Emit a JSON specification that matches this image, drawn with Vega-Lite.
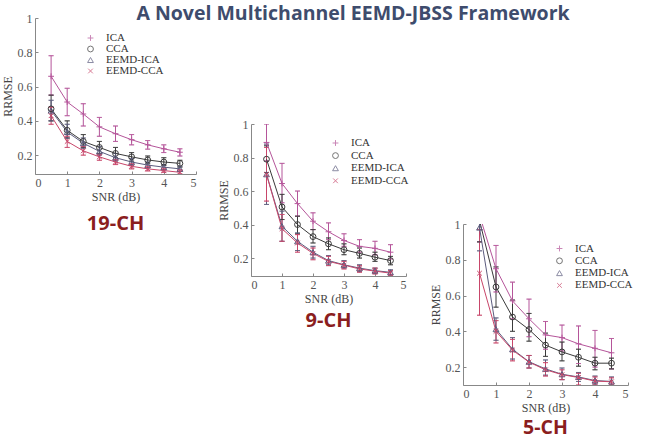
{
"$schema":"https://vega.github.io/schema/vega-lite/v6.json",
"background":"white",
"padding":{"left":1,"top":3,"right":5,"bottom":5},
"title":{"text":"A Novel Multichannel EEMD-JBSS Framework","font":"Open Sans","fontSize":19.5,"fontWeight":"bold","color":"#3E4C6D","anchor":"middle","offset":-12,"dx":36},
"datasets":{"d":[
{"p":"19","m":"ICA","x":0.5,"v":0.66,"lo":0.55,"hi":0.78},
{"p":"19","m":"ICA","x":1,"v":0.51,"lo":0.43,"hi":0.59},
{"p":"19","m":"ICA","x":1.5,"v":0.44,"lo":0.37,"hi":0.5},
{"p":"19","m":"ICA","x":2,"v":0.365,"lo":0.31,"hi":0.42},
{"p":"19","m":"ICA","x":2.5,"v":0.325,"lo":0.28,"hi":0.37},
{"p":"19","m":"ICA","x":3,"v":0.29,"lo":0.26,"hi":0.32},
{"p":"19","m":"ICA","x":3.5,"v":0.26,"lo":0.235,"hi":0.285},
{"p":"19","m":"ICA","x":4,"v":0.237,"lo":0.215,"hi":0.26},
{"p":"19","m":"ICA","x":4.5,"v":0.217,"lo":0.195,"hi":0.237},
{"p":"19","m":"CCA","x":0.5,"v":0.47,"lo":0.4,"hi":0.55},
{"p":"19","m":"CCA","x":1,"v":0.345,"lo":0.3,"hi":0.4},
{"p":"19","m":"CCA","x":1.5,"v":0.28,"lo":0.245,"hi":0.32},
{"p":"19","m":"CCA","x":2,"v":0.245,"lo":0.21,"hi":0.28},
{"p":"19","m":"CCA","x":2.5,"v":0.21,"lo":0.185,"hi":0.245},
{"p":"19","m":"CCA","x":3,"v":0.19,"lo":0.165,"hi":0.215},
{"p":"19","m":"CCA","x":3.5,"v":0.172,"lo":0.15,"hi":0.195},
{"p":"19","m":"CCA","x":4,"v":0.16,"lo":0.14,"hi":0.185},
{"p":"19","m":"CCA","x":4.5,"v":0.152,"lo":0.13,"hi":0.17},
{"p":"19","m":"EEMD-ICA","x":0.5,"v":0.46,"lo":0.4,"hi":0.52},
{"p":"19","m":"EEMD-ICA","x":1,"v":0.335,"lo":0.3,"hi":0.38},
{"p":"19","m":"EEMD-ICA","x":1.5,"v":0.27,"lo":0.24,"hi":0.3},
{"p":"19","m":"EEMD-ICA","x":2,"v":0.222,"lo":0.2,"hi":0.25},
{"p":"19","m":"EEMD-ICA","x":2.5,"v":0.185,"lo":0.165,"hi":0.21},
{"p":"19","m":"EEMD-ICA","x":3,"v":0.16,"lo":0.14,"hi":0.18},
{"p":"19","m":"EEMD-ICA","x":3.5,"v":0.142,"lo":0.125,"hi":0.16},
{"p":"19","m":"EEMD-ICA","x":4,"v":0.13,"lo":0.115,"hi":0.145},
{"p":"19","m":"EEMD-ICA","x":4.5,"v":0.12,"lo":0.105,"hi":0.135},
{"p":"19","m":"EEMD-CCA","x":0.5,"v":0.43,"lo":0.38,"hi":0.48},
{"p":"19","m":"EEMD-CCA","x":1,"v":0.28,"lo":0.245,"hi":0.31},
{"p":"19","m":"EEMD-CCA","x":1.5,"v":0.225,"lo":0.2,"hi":0.25},
{"p":"19","m":"EEMD-CCA","x":2,"v":0.19,"lo":0.17,"hi":0.205},
{"p":"19","m":"EEMD-CCA","x":2.5,"v":0.16,"lo":0.145,"hi":0.175},
{"p":"19","m":"EEMD-CCA","x":3,"v":0.135,"lo":0.12,"hi":0.15},
{"p":"19","m":"EEMD-CCA","x":3.5,"v":0.12,"lo":0.108,"hi":0.135},
{"p":"19","m":"EEMD-CCA","x":4,"v":0.11,"lo":0.1,"hi":0.125},
{"p":"19","m":"EEMD-CCA","x":4.5,"v":0.1,"lo":0.09,"hi":0.115},
{"p":"9","m":"ICA","x":0.5,"v":0.89,"lo":0.78,"hi":1.0},
{"p":"9","m":"ICA","x":1,"v":0.645,"lo":0.53,"hi":0.765},
{"p":"9","m":"ICA","x":1.5,"v":0.525,"lo":0.45,"hi":0.6},
{"p":"9","m":"ICA","x":2,"v":0.42,"lo":0.37,"hi":0.47},
{"p":"9","m":"ICA","x":2.5,"v":0.357,"lo":0.31,"hi":0.41},
{"p":"9","m":"ICA","x":3,"v":0.305,"lo":0.27,"hi":0.345},
{"p":"9","m":"ICA","x":3.5,"v":0.27,"lo":0.235,"hi":0.31},
{"p":"9","m":"ICA","x":4,"v":0.258,"lo":0.22,"hi":0.3},
{"p":"9","m":"ICA","x":4.5,"v":0.235,"lo":0.195,"hi":0.28},
{"p":"9","m":"CCA","x":0.5,"v":0.79,"lo":0.71,"hi":0.87},
{"p":"9","m":"CCA","x":1,"v":0.505,"lo":0.43,"hi":0.58},
{"p":"9","m":"CCA","x":1.5,"v":0.4,"lo":0.345,"hi":0.45},
{"p":"9","m":"CCA","x":2,"v":0.328,"lo":0.29,"hi":0.37},
{"p":"9","m":"CCA","x":2.5,"v":0.285,"lo":0.25,"hi":0.32},
{"p":"9","m":"CCA","x":3,"v":0.25,"lo":0.22,"hi":0.285},
{"p":"9","m":"CCA","x":3.5,"v":0.228,"lo":0.2,"hi":0.26},
{"p":"9","m":"CCA","x":4,"v":0.205,"lo":0.18,"hi":0.235},
{"p":"9","m":"CCA","x":4.5,"v":0.185,"lo":0.16,"hi":0.21},
{"p":"9","m":"EEMD-ICA","x":0.5,"v":0.7,"lo":0.52,"hi":0.88},
{"p":"9","m":"EEMD-ICA","x":1,"v":0.39,"lo":0.3,"hi":0.48},
{"p":"9","m":"EEMD-ICA","x":1.5,"v":0.3,"lo":0.245,"hi":0.35},
{"p":"9","m":"EEMD-ICA","x":2,"v":0.235,"lo":0.2,"hi":0.27},
{"p":"9","m":"EEMD-ICA","x":2.5,"v":0.185,"lo":0.16,"hi":0.215},
{"p":"9","m":"EEMD-ICA","x":3,"v":0.16,"lo":0.14,"hi":0.185},
{"p":"9","m":"EEMD-ICA","x":3.5,"v":0.14,"lo":0.12,"hi":0.16},
{"p":"9","m":"EEMD-ICA","x":4,"v":0.125,"lo":0.11,"hi":0.14},
{"p":"9","m":"EEMD-ICA","x":4.5,"v":0.115,"lo":0.1,"hi":0.13},
{"p":"9","m":"EEMD-CCA","x":0.5,"v":0.7,"lo":0.54,"hi":0.86},
{"p":"9","m":"EEMD-CCA","x":1,"v":0.375,"lo":0.3,"hi":0.46},
{"p":"9","m":"EEMD-CCA","x":1.5,"v":0.29,"lo":0.235,"hi":0.34},
{"p":"9","m":"EEMD-CCA","x":2,"v":0.228,"lo":0.19,"hi":0.26},
{"p":"9","m":"EEMD-CCA","x":2.5,"v":0.18,"lo":0.155,"hi":0.21},
{"p":"9","m":"EEMD-CCA","x":3,"v":0.158,"lo":0.135,"hi":0.18},
{"p":"9","m":"EEMD-CCA","x":3.5,"v":0.135,"lo":0.115,"hi":0.155},
{"p":"9","m":"EEMD-CCA","x":4,"v":0.122,"lo":0.105,"hi":0.14},
{"p":"9","m":"EEMD-CCA","x":4.5,"v":0.11,"lo":0.095,"hi":0.125},
{"p":"5","m":"ICA","x":0.5,"v":1.05,"lo":0.9,"hi":1.2},
{"p":"5","m":"ICA","x":1,"v":0.75,"lo":0.62,"hi":0.88},
{"p":"5","m":"ICA","x":1.5,"v":0.57,"lo":0.47,"hi":0.675},
{"p":"5","m":"ICA","x":2,"v":0.47,"lo":0.37,"hi":0.58},
{"p":"5","m":"ICA","x":2.5,"v":0.38,"lo":0.3,"hi":0.455},
{"p":"5","m":"ICA","x":3,"v":0.365,"lo":0.29,"hi":0.435},
{"p":"5","m":"ICA","x":3.5,"v":0.33,"lo":0.22,"hi":0.43},
{"p":"5","m":"ICA","x":4,"v":0.305,"lo":0.2,"hi":0.405},
{"p":"5","m":"ICA","x":4.5,"v":0.28,"lo":0.19,"hi":0.36},
{"p":"5","m":"CCA","x":0.5,"v":1.02,"lo":0.9,"hi":1.15},
{"p":"5","m":"CCA","x":1,"v":0.648,"lo":0.535,"hi":0.76},
{"p":"5","m":"CCA","x":1.5,"v":0.48,"lo":0.4,"hi":0.575},
{"p":"5","m":"CCA","x":2,"v":0.41,"lo":0.345,"hi":0.5},
{"p":"5","m":"CCA","x":2.5,"v":0.323,"lo":0.26,"hi":0.39},
{"p":"5","m":"CCA","x":3,"v":0.285,"lo":0.235,"hi":0.34},
{"p":"5","m":"CCA","x":3.5,"v":0.255,"lo":0.205,"hi":0.3},
{"p":"5","m":"CCA","x":4,"v":0.222,"lo":0.185,"hi":0.255},
{"p":"5","m":"CCA","x":4.5,"v":0.222,"lo":0.19,"hi":0.25},
{"p":"5","m":"EEMD-ICA","x":0.5,"v":0.98,"lo":0.85,"hi":1.1},
{"p":"5","m":"EEMD-ICA","x":1,"v":0.412,"lo":0.35,"hi":0.475},
{"p":"5","m":"EEMD-ICA","x":1.5,"v":0.3,"lo":0.245,"hi":0.365},
{"p":"5","m":"EEMD-ICA","x":2,"v":0.23,"lo":0.195,"hi":0.265},
{"p":"5","m":"EEMD-ICA","x":2.5,"v":0.19,"lo":0.155,"hi":0.24},
{"p":"5","m":"EEMD-ICA","x":3,"v":0.16,"lo":0.13,"hi":0.195},
{"p":"5","m":"EEMD-ICA","x":3.5,"v":0.145,"lo":0.12,"hi":0.17},
{"p":"5","m":"EEMD-ICA","x":4,"v":0.125,"lo":0.105,"hi":0.15},
{"p":"5","m":"EEMD-ICA","x":4.5,"v":0.12,"lo":0.1,"hi":0.145},
{"p":"5","m":"EEMD-CCA","x":0.5,"v":0.725,"lo":0.49,"hi":0.97},
{"p":"5","m":"EEMD-CCA","x":1,"v":0.4,"lo":0.335,"hi":0.46},
{"p":"5","m":"EEMD-CCA","x":1.5,"v":0.295,"lo":0.235,"hi":0.355},
{"p":"5","m":"EEMD-CCA","x":2,"v":0.228,"lo":0.195,"hi":0.265},
{"p":"5","m":"EEMD-CCA","x":2.5,"v":0.185,"lo":0.15,"hi":0.225},
{"p":"5","m":"EEMD-CCA","x":3,"v":0.158,"lo":0.13,"hi":0.185},
{"p":"5","m":"EEMD-CCA","x":3.5,"v":0.142,"lo":0.1,"hi":0.165},
{"p":"5","m":"EEMD-CCA","x":4,"v":0.122,"lo":0.1,"hi":0.145},
{"p":"5","m":"EEMD-CCA","x":4.5,"v":0.118,"lo":0.1,"hi":0.14}
]},
"spacing":20,
"resolve":{"scale":{"color":"independent","shape":"independent"},"legend":{"color":"independent","shape":"independent"}},
"hconcat":[
{
 "width":161,"height":156,
 "data":{"name":"d"},
 "transform":[{"filter":"datum.p === '19'"}],
 "title":{"text":"19-CH","orient":"bottom","anchor":"middle","font":"Open Sans","fontSize":20,"fontWeight":"bold","color":"#8B1E1E","offset":12},
 "encoding":{"x":{"field":"x","type":"quantitative","title":"SNR (dB)","scale":{"domain":[0,5],"nice":false},"axis":{"values":[0,1,2,3,4,5]}}},
 "layer":[
  {"mark":{"type":"rule","strokeWidth":1,"clip":true},"encoding":{"y":{"field":"lo","type":"quantitative","title":"RRMSE","scale":{"domain":[0.09,1],"nice":false,"zero":false},"axis":{"values":[0.2,0.4,0.6,0.8,1],"format":"~g","labelOverlap":false}},"y2":{"field":"hi"},"color":{"field":"m","type":"nominal","scale":{"domain":["ICA","CCA","EEMD-ICA","EEMD-CCA"],"range":["#B5559A","#3A3A3A","#5C5C7E","#C8466A"]}}}},
  {"mark":{"type":"tick","orient":"horizontal","size":5,"thickness":0,"filled":false,"strokeWidth":1,"clip":true},"encoding":{"y":{"field":"lo","type":"quantitative","title":"RRMSE","axis":{"values":[0.2,0.4,0.6,0.8,1],"format":"~g","labelOverlap":false}},"color":{"field":"m","type":"nominal"}}},
  {"mark":{"type":"tick","orient":"horizontal","size":5,"thickness":0,"filled":false,"strokeWidth":1,"clip":true},"encoding":{"y":{"field":"hi","type":"quantitative","title":"RRMSE","axis":{"values":[0.2,0.4,0.6,0.8,1],"format":"~g","labelOverlap":false}},"color":{"field":"m","type":"nominal"}}},
  {"mark":{"type":"line","strokeWidth":1,"clip":true},"encoding":{"y":{"field":"v","type":"quantitative","title":"RRMSE","axis":{"values":[0.2,0.4,0.6,0.8,1],"format":"~g","labelOverlap":false}},"color":{"field":"m","type":"nominal"}}},
  {"mark":{"type":"point","filled":false,"size":34,"strokeWidth":1,"opacity":1,"clip":true},"encoding":{"y":{"field":"v","type":"quantitative","title":"RRMSE","axis":{"values":[0.2,0.4,0.6,0.8,1],"format":"~g","labelOverlap":false}},
   "color":{"field":"m","type":"nominal","legend":{"title":null,"orient":"none","legendX":50,"legendY":14.5,"rowPadding":-1.5}},
   "shape":{"field":"m","type":"nominal","scale":{"domain":["ICA","CCA","EEMD-ICA","EEMD-CCA"],"range":["M-1,0L1,0M0,-1L0,1","circle","triangle-up","M-0.8,-0.8L0.8,0.8M-0.8,0.8L0.8,-0.8"]},"legend":{"title":null,"orient":"none","legendX":50,"legendY":14.5,"rowPadding":-1.5}}}}
 ]
},
{
 "spacing":0,
 "resolve":{"scale":{"color":"independent","shape":"independent"},"legend":{"color":"independent","shape":"independent"}},
 "vconcat":[
 {"width":1,"height":100,"data":{"values":[{}]},"mark":{"type":"text","text":""}},
 {
 "width":155,"height":152,
 "data":{"name":"d"},
 "transform":[{"filter":"datum.p === '9'"}],
 "title":{"text":"9-CH","orient":"bottom","anchor":"middle","font":"Open Sans","fontSize":20,"fontWeight":"bold","color":"#8B1E1E","offset":7},
 "encoding":{"x":{"field":"x","type":"quantitative","title":"SNR (dB)","scale":{"domain":[0,5],"nice":false},"axis":{"values":[0,1,2,3,4,5]}}},
 "layer":[
  {"mark":{"type":"rule","strokeWidth":1,"clip":true},"encoding":{"y":{"field":"lo","type":"quantitative","title":"RRMSE","scale":{"domain":[0.093,1],"nice":false,"zero":false},"axis":{"values":[0.2,0.4,0.6,0.8,1],"format":"~g","labelOverlap":false}},"y2":{"field":"hi"},"color":{"field":"m","type":"nominal","scale":{"domain":["ICA","CCA","EEMD-ICA","EEMD-CCA"],"range":["#B5559A","#3A3A3A","#5C5C7E","#C8466A"]}}}},
  {"mark":{"type":"tick","orient":"horizontal","size":5,"thickness":0,"filled":false,"strokeWidth":1,"clip":true},"encoding":{"y":{"field":"lo","type":"quantitative","title":"RRMSE","axis":{"values":[0.2,0.4,0.6,0.8,1],"format":"~g","labelOverlap":false}},"color":{"field":"m","type":"nominal"}}},
  {"mark":{"type":"tick","orient":"horizontal","size":5,"thickness":0,"filled":false,"strokeWidth":1,"clip":true},"encoding":{"y":{"field":"hi","type":"quantitative","title":"RRMSE","axis":{"values":[0.2,0.4,0.6,0.8,1],"format":"~g","labelOverlap":false}},"color":{"field":"m","type":"nominal"}}},
  {"mark":{"type":"line","strokeWidth":1,"clip":true},"encoding":{"y":{"field":"v","type":"quantitative","title":"RRMSE","axis":{"values":[0.2,0.4,0.6,0.8,1],"format":"~g","labelOverlap":false}},"color":{"field":"m","type":"nominal"}}},
  {"mark":{"type":"point","filled":false,"size":34,"strokeWidth":1,"opacity":1,"clip":true},"encoding":{"y":{"field":"v","type":"quantitative","title":"RRMSE","axis":{"values":[0.2,0.4,0.6,0.8,1],"format":"~g","labelOverlap":false}},
   "color":{"field":"m","type":"nominal","legend":{"title":null,"orient":"none","legendX":79,"legendY":13.5,"rowPadding":0.6}},
   "shape":{"field":"m","type":"nominal","scale":{"domain":["ICA","CCA","EEMD-ICA","EEMD-CCA"],"range":["M-1,0L1,0M0,-1L0,1","circle","triangle-up","M-0.8,-0.8L0.8,0.8M-0.8,0.8L0.8,-0.8"]},"legend":{"title":null,"orient":"none","legendX":79,"legendY":13.5,"rowPadding":0.6}}}}
 ]
 }]
},
{
 "spacing":0,
 "resolve":{"scale":{"color":"independent","shape":"independent"},"legend":{"color":"independent","shape":"independent"}},
 "vconcat":[
 {"width":1,"height":200,"data":{"values":[{}]},"mark":{"type":"text","text":""}},
 {
 "width":165,"height":161,
 "data":{"name":"d"},
 "transform":[{"filter":"datum.p === '5'"}],
 "title":{"text":"5-CH","orient":"bottom","anchor":"middle","font":"Open Sans","fontSize":19.5,"fontWeight":"bold","color":"#8B1E1E","offset":6},
 "encoding":{"x":{"field":"x","type":"quantitative","title":"SNR (dB)","scale":{"domain":[0,5],"nice":false},"axis":{"values":[0,1,2,3,4,5]}}},
 "layer":[
  {"mark":{"type":"rule","strokeWidth":1,"clip":true},"encoding":{"y":{"field":"lo","type":"quantitative","title":"RRMSE","scale":{"domain":[0.1,1],"nice":false,"zero":false},"axis":{"values":[0.2,0.4,0.6,0.8,1],"format":"~g","labelOverlap":false}},"y2":{"field":"hi"},"color":{"field":"m","type":"nominal","scale":{"domain":["ICA","CCA","EEMD-ICA","EEMD-CCA"],"range":["#B5559A","#3A3A3A","#5C5C7E","#C8466A"]}}}},
  {"mark":{"type":"tick","orient":"horizontal","size":5,"thickness":0,"filled":false,"strokeWidth":1,"clip":true},"encoding":{"y":{"field":"lo","type":"quantitative","title":"RRMSE","axis":{"values":[0.2,0.4,0.6,0.8,1],"format":"~g","labelOverlap":false}},"color":{"field":"m","type":"nominal"}}},
  {"mark":{"type":"tick","orient":"horizontal","size":5,"thickness":0,"filled":false,"strokeWidth":1,"clip":true},"encoding":{"y":{"field":"hi","type":"quantitative","title":"RRMSE","axis":{"values":[0.2,0.4,0.6,0.8,1],"format":"~g","labelOverlap":false}},"color":{"field":"m","type":"nominal"}}},
  {"mark":{"type":"line","strokeWidth":1,"clip":true},"encoding":{"y":{"field":"v","type":"quantitative","title":"RRMSE","axis":{"values":[0.2,0.4,0.6,0.8,1],"format":"~g","labelOverlap":false}},"color":{"field":"m","type":"nominal"}}},
  {"mark":{"type":"point","filled":false,"size":34,"strokeWidth":1,"opacity":1,"clip":true},"encoding":{"y":{"field":"v","type":"quantitative","title":"RRMSE","axis":{"values":[0.2,0.4,0.6,0.8,1],"format":"~g","labelOverlap":false}},
   "color":{"field":"m","type":"nominal","legend":{"title":null,"orient":"none","legendX":91,"legendY":19,"rowPadding":0.3}},
   "shape":{"field":"m","type":"nominal","scale":{"domain":["ICA","CCA","EEMD-ICA","EEMD-CCA"],"range":["M-1,0L1,0M0,-1L0,1","circle","triangle-up","M-0.8,-0.8L0.8,0.8M-0.8,0.8L0.8,-0.8"]},"legend":{"title":null,"orient":"none","legendX":91,"legendY":19,"rowPadding":0.3}}}}
 ]
 }]
}
],
"config":{
 "view":{"stroke":null},
 "axis":{"labelFont":"Liberation Serif","labelFontSize":12,"labelColor":"#555","titleFont":"Liberation Serif","titleFontSize":12,"titleFontWeight":"normal","titleColor":"#444","domainColor":"#888","tickColor":"#888","grid":false,"tickSize":-3,"labelPadding":6,"titlePadding":3,"labelOverlap":false},
 "legend":{"labelFont":"Liberation Serif","labelFontSize":11,"labelColor":"#333","symbolStrokeWidth":1,"symbolSize":34,"padding":0,"labelOffset":10}
}
}
